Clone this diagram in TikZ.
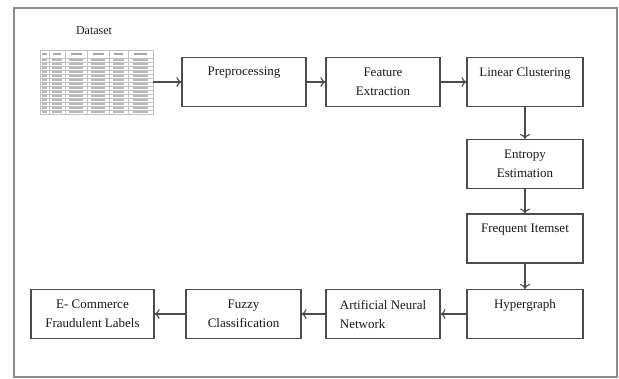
\documentclass[tikz,border=0pt]{standalone}
\usepackage{fontspec}
\setmainfont{Liberation Serif}
\usetikzlibrary{arrows.meta}
\definecolor{boxgray}{RGB}{75,75,75}
\definecolor{framegray}{RGB}{140,140,140}
\definecolor{tabgray}{RGB}{195,195,195}

\begin{document}
\begin{tikzpicture}[x=1pt,y=-1pt,
  box/.style={draw=boxgray,line width=1.1pt,minimum width=#1,minimum height=49pt,
    inner sep=2pt,align=center,text=black!90,font=\fontsize{13}{19}\selectfont},
  box/.default=116pt,
  flow/.style={draw=boxgray,line width=1.1pt,-{To[length=5pt,width=10pt]}}]
  \useasboundingbox (0,0) rectangle (619,378);
  % Frame
  \draw[framegray,line width=1.3pt] (14,8) rectangle (617,377);
  % Dataset
  \node[font=\fontsize{12}{14}\selectfont,text=black!90] (title) at (94,31) {Dataset};
  \node[minimum width=113pt,minimum height=64pt,inner sep=0pt] (data) at (96.5,82) {};
  \draw[tabgray,line width=0.4pt] (40,50) rectangle (153,114);
  \foreach \x in {49,65,87,109,128}
    \draw[tabgray,line width=0.4pt] (\x,50) -- (\x,114);
  \foreach \r in {0,...,13}
    \draw[tabgray,line width=0.4pt] (40,58+4*\r) -- (153,58+4*\r);
  \foreach \a/\b in {40/49,49/65,65/87,87/109,109/128,128/153}{
    \draw[gray!70,line width=1.1pt] (\a+0.25*\b-0.25*\a,54) -- (\a+0.75*\b-0.75*\a,54);
    \foreach \r in {0,...,13}
      \draw[gray!55,line width=1.3pt] (\a+0.2*\b-0.2*\a,60+4*\r) -- (\a+0.8*\b-0.8*\a,60+4*\r);
  }
  % Top row
  \node[box=124pt] (pre) at (244,82) {Preprocessing\\[-4pt]\strut};
  \node[box=114pt] (feat) at (383,82) {Feature\\Extraction};
  \node[box] (lin) at (525,82) {Linear Clustering\\[-4pt]\strut};
  % Right column
  \node[box] (ent) at (525,164) {Entropy\\Estimation};
  \node[box] (freq) at (525,238.5) {Frequent Itemset\\[-4pt]\strut};
  \node[box] (hyp) at (525,314) {Hypergraph\\[-4pt]\strut};
  % Bottom row
  \node[box=114pt,align=left] (ann) at (383,314) {Artificial Neural\\Network};
  \node[box=115pt] (fuz) at (243.5,314) {Fuzzy\\Classification};
  \node[box=123pt] (ecom) at (92.5,314) {E- Commerce\\Fraudulent Labels};
  % Arrows
  \draw[flow] (data) -- (pre);
  \draw[flow] (pre) -- (feat);
  \draw[flow] (feat) -- (lin);
  \draw[flow] (lin) -- (ent);
  \draw[flow] (ent) -- (freq);
  \draw[flow] (freq) -- (hyp);
  \draw[flow] (hyp) -- (ann);
  \draw[flow] (ann) -- (fuz);
  \draw[flow] (fuz) -- (ecom);
\end{tikzpicture}
\end{document}
